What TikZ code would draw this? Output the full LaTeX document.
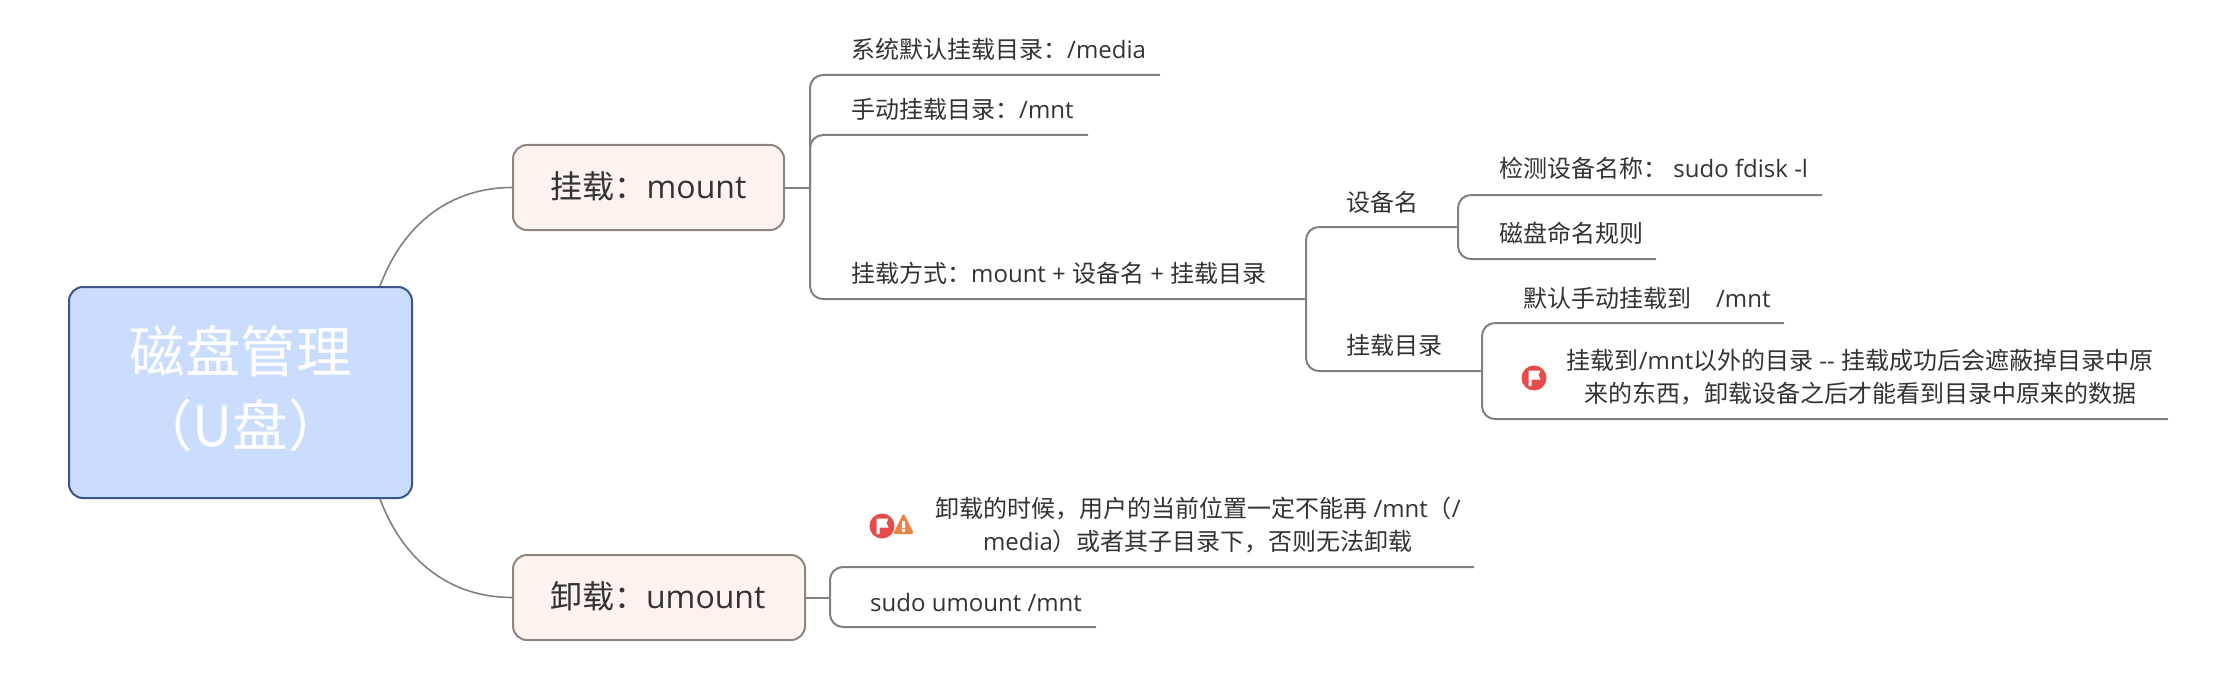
\documentclass[tikz,border=0pt]{standalone}
\usepackage{fontspec}
\setmainfont{Open Sans}
\newfontfamily\cjkf{Noto Sans CJK SC}
\newcommand{\cj}[1]{{\cjkf #1}}
\newcommand{\upby}[2]{\raisebox{#1}[\height][\depth]{#2}}
\usetikzlibrary{calc}
\definecolor{rootfill}{HTML}{CBDDFF}
\definecolor{rootline}{HTML}{3A5688}
\definecolor{subfill}{HTML}{FEF3EE}
\definecolor{subline}{HTML}{8F857C}
\definecolor{conn}{HTML}{808080}
\definecolor{ink}{HTML}{333333}
\definecolor{flagred}{HTML}{E64B4B}
\definecolor{warnorange}{HTML}{EE8240}
\tikzset{
  rootbox/.style={draw=rootline,fill=rootfill,line width=2pt,rounded corners=14pt,inner sep=0pt,text=white,align=center,font=\fontsize{55.5}{74}\selectfont},
  subbox/.style={draw=subline,fill=subfill,line width=2pt,rounded corners=14pt,inner sep=0pt,text=ink,font=\fontsize{32}{38}\selectfont},
  leaf/.style={inner sep=0pt,text=ink,anchor=west,font=\fontsize{24}{32}\selectfont},
  para/.style={inner sep=0pt,text=ink,anchor=center,align=center,font=\fontsize{24}{33}\selectfont},
  branch/.style={draw=conn,line width=2pt,rounded corners=13pt},
  curve/.style={draw=conn,line width=1.6pt},
  flagdot/.style={circle,fill=flagred,minimum size=25pt,inner sep=0pt},
}
\begin{document}
\begin{tikzpicture}[x=1pt,y=-1pt]
\useasboundingbox (0,0) rectangle (2230,674);
% main topics
\node[rootbox,minimum width=343pt,minimum height=211pt] (root) at (240.5,392.5) {\upby{3.5pt}{\cj{磁盘管理}}\\\upby{3.5pt}{\cj{（U盘）}}};
\node[subbox,minimum width=271pt,minimum height=85pt] (mnt) at (648.5,187.5) {\upby{1.4pt}{\cj{挂载：}mount}};
\node[subbox,minimum width=292pt,minimum height=85pt] (umnt) at (659,597.5) {\upby{1.4pt}{\cj{卸载：}umount}\kern2.5pt};
% junctions
\coordinate (rt) at ($(root.north east)+(-33,0)$);
\coordinate (rb) at ($(root.south east)+(-33,0)$);
\coordinate (j1) at (810,187.5);
\coordinate (j2) at (1306,299);
\coordinate (j3) at (1458,227);
\coordinate (j4) at (1482,371);
\coordinate (j5) at (830,597.5);
\coordinate (e1) at (1160,75);
\coordinate (e2) at (1088,135);
\coordinate (e4) at (1822,195);
\coordinate (e5) at (1656,259);
\coordinate (e6) at (1784,323);
\coordinate (e7) at (2168,419);
\coordinate (e8) at (1474,567);
\coordinate (e9) at (1096,627);
% connectors
\draw[curve] (rt) .. controls (404,222) and (452,187.5) .. (mnt.west);
\draw[curve] (rb) .. controls (404,563) and (452,597.5) .. (umnt.west);
\draw[branch] (mnt.east) -- (j1);
\draw[branch] (j1) |- (e1);
\draw[branch] (j1) |- (e2);
\draw[branch] (j1) |- (j2);
\draw[branch] (j2) |- (j3);
\draw[branch] (j2) |- (j4);
\draw[branch] (j3) |- (e4);
\draw[branch] (j3) |- (e5);
\draw[branch] (j4) |- (e6);
\draw[branch] (j4) |- (e7);
\draw[branch] (umnt.east) -- (j5);
\draw[branch] (j5) |- (e8);
\draw[branch] (j5) |- (e9);
% texts
\node[leaf] (t1) at (851,49) {\cj{系统默认挂载目录：}/media};
\node[leaf] (t2) at (851,109) {\cj{手动挂载目录：}/mnt};
\node[leaf] (t3) at (851,273) {\cj{挂载方式：}mount + \cj{设备名} + \cj{挂载目录}};
\node[leaf] (t4) at (1346,202) {\cj{设备名}};
\node[leaf] (t5) at (1346,345) {\cj{挂载目录}};
\node[leaf] (t6) at (1499,168) {\cj{检测设备名称：}\ sudo fdisk -l};
\node[leaf] (t7) at (1499,233) {\cj{磁盘命名规则}};
\node[leaf] (t8) at (1523,298) {\cj{默认手动挂载到}\ \ \ \ /mnt};
\node[para] (t9) at (1860,377.5) {\cj{挂载到}/mnt\cj{以外的目录} {-}{-} \cj{挂载成功后会遮蔽掉目录中原}\\\cj{来的东西，卸载设备之后才能看到目录中原来的数据}};
\node[para] (t10) at (1198,525) {\cj{卸载的时候，用户的当前位置一定不能再} /mnt\cj{（}/\\media\cj{）或者其子目录下，否则无法卸载}};
\node[leaf] (t11) at (870,602) {sudo umount /mnt};
% icons
\node[flagdot] (f1) at (1534,378) {};
\fill[white] ($(f1)+(-5.5,-7.5)$) -- ($(f1)+(6.5,-7.5)$) -- ($(f1)+(4.5,-3)$) -- ($(f1)+(6.5,1.5)$) -- ($(f1)+(-2.5,1.5)$) -- ($(f1)+(-2.5,8)$) -- ($(f1)+(-5.5,8)$) -- cycle;
\node[flagdot] (f2) at (882,526) {};
\fill[white] ($(f2)+(-5.5,-7.5)$) -- ($(f2)+(6.5,-7.5)$) -- ($(f2)+(4.5,-3)$) -- ($(f2)+(6.5,1.5)$) -- ($(f2)+(-2.5,1.5)$) -- ($(f2)+(-2.5,8)$) -- ($(f2)+(-5.5,8)$) -- cycle;
\coordinate (w) at (903.5,526);
\fill[warnorange,rounded corners=2.5pt] ($(w)+(0,-13)$) -- ($(w)+(10.5,8)$) -- ($(w)+(-10.5,8)$) -- cycle;
\fill[white] ($(w)+(-1.2,-5)$) rectangle ($(w)+(1.2,2)$);
\fill[white] ($(w)+(-1.2,3.2)$) rectangle ($(w)+(1.2,5.6)$);
\end{tikzpicture}
\end{document}
